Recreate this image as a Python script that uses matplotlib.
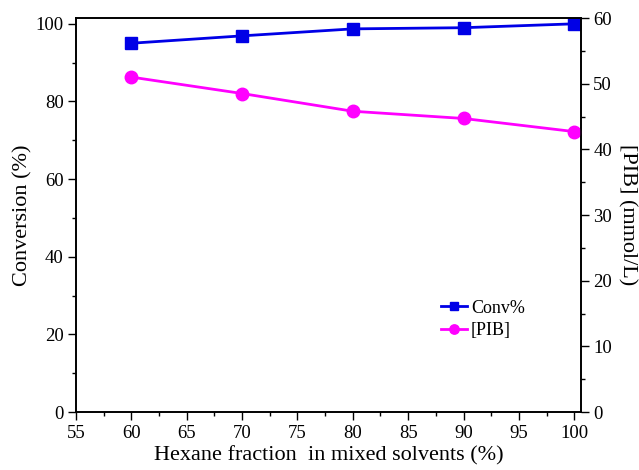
import matplotlib.pyplot as plt
from matplotlib.ticker import MultipleLocator

# hexane fraction in the mixed solvent vs. monomer conversion and [PIB]
hexane = [60, 70, 80, 90, 100]
conversion = [95.0, 96.9, 98.7, 99.0, 100.0]
pib = [51.0, 48.5, 45.8, 44.7, 42.7]

plt.rcParams['font.family'] = ['Liberation Serif', 'DejaVu Serif']

fig = plt.figure(figsize=(6.39, 4.7), dpi=100)
ax = fig.add_axes([0.119, 0.1234, 0.790, 0.8383])
ax2 = ax.twinx()

l1, = ax.plot(hexane, conversion, color='#0000e6', lw=2, marker='s', ms=8, label='Conv%')
l2, = ax2.plot(hexane, pib, color='#ff00ff', lw=2, marker='o', ms=9, label='[PIB]')

ax.set_xlim(55, 100.6)
ax.set_ylim(0, 101.5)
ax2.set_ylim(0, 60)

ax.xaxis.set_major_locator(MultipleLocator(5))
ax.xaxis.set_minor_locator(MultipleLocator(2.5))
ax.yaxis.set_major_locator(MultipleLocator(20))
ax.yaxis.set_minor_locator(MultipleLocator(10))
ax2.yaxis.set_major_locator(MultipleLocator(10))
ax2.yaxis.set_minor_locator(MultipleLocator(5))

for a in (ax, ax2):
    a.tick_params(which='major', direction='out', length=6, width=1, labelsize=13.5, pad=3)
    a.tick_params(which='minor', direction='out', length=3, width=1)
    for s in a.spines.values():
        s.set_linewidth(1.2)

ax.set_xlabel('Hexane fraction  in mixed solvents (%)', fontsize=16, labelpad=3)
ax.set_ylabel('Conversion (%)', fontsize=16, labelpad=2)
ax2.set_ylabel('[PIB] (mmol/L)', fontsize=16, rotation=270, labelpad=4, va='bottom')

ax.legend(handles=[l1, l2], loc='center left', bbox_to_anchor=(0.723, 0.235),
          frameon=False, fontsize=13, handlelength=1.45, handletextpad=0.2,
          labelspacing=0.3, borderaxespad=0, borderpad=0, markerscale=0.75)

fig.savefig('out.png', dpi=100)
